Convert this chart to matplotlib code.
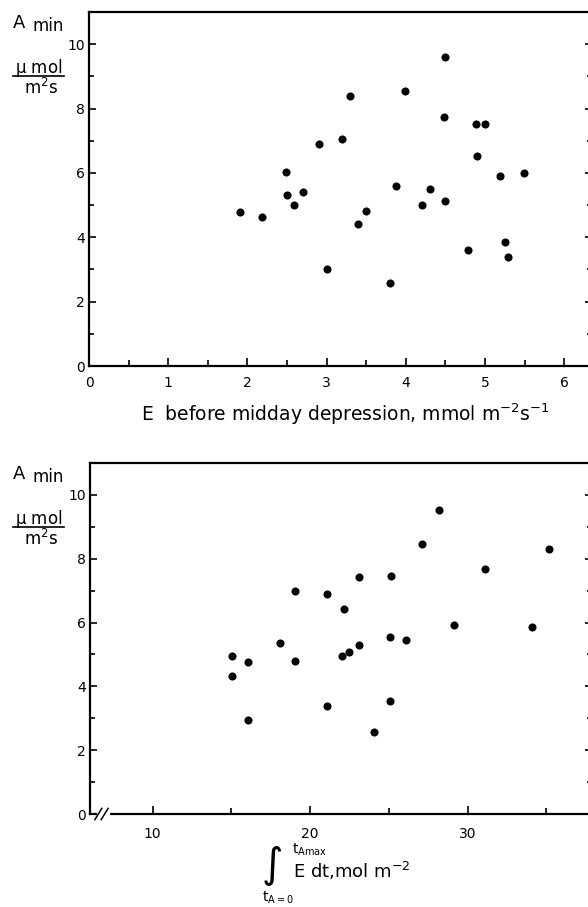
import matplotlib
matplotlib.use('Agg')
import matplotlib.pyplot as plt
from matplotlib.ticker import MultipleLocator
import matplotlib.transforms as mtransforms

# top panel: A min vs E before midday depression
e_mid = [1.90, 2.19, 2.49, 2.50, 2.59, 2.70, 2.90, 3.00, 3.19, 3.29, 3.39, 3.50, 3.80, 3.88,
         3.99, 4.20, 4.30, 4.48, 4.50, 4.50, 4.79, 4.88, 4.90, 5.00, 5.19, 5.25, 5.29, 5.49]
amin_top = [4.80, 4.63, 6.02, 5.30, 5.00, 5.42, 6.89, 3.00, 7.04, 8.38, 4.40, 4.81, 2.58, 5.60,
            8.54, 5.01, 5.50, 7.75, 9.59, 5.12, 3.59, 7.51, 6.51, 7.51, 5.89, 3.86, 3.39, 6.00]

# bottom panel: A min vs integrated E (mol m-2)
e_int = [15.05, 15.05, 16.03, 16.03, 18.06, 19.05, 19.05, 21.09, 21.09, 22.13, 22.02, 22.48, 23.10,
         23.10, 24.07, 25.11, 25.05, 25.07, 26.06, 27.12, 28.16, 29.11, 31.10, 34.10, 35.18]
amin_bot = [4.94, 4.33, 4.76, 2.96, 5.35, 6.98, 4.79, 6.88, 3.40, 6.44, 4.94, 5.07, 7.44,
            5.30, 2.56, 7.47, 5.55, 3.54, 5.46, 8.46, 9.54, 5.93, 7.67, 5.86, 8.32]

W, H = 588, 907
plt.rcParams['font.family'] = ['DejaVu Sans']
fig = plt.figure(figsize=(W / 100, H / 100), dpi=100)


def px(x, y):
    return x / W, 1 - y / H


def make_axes(left, top, bottom, right=592):
    ax = fig.add_axes([left / W, 1 - bottom / H, (right - left) / W, (bottom - top) / H])
    for s in ['left', 'bottom', 'top', 'right']:
        ax.spines[s].set_linewidth(1.6)
    ax.tick_params(axis='both', which='both', direction='in', right=True, top=False,
                   labelsize=10, width=1.2)
    ax.tick_params(axis='y', which='major', length=5, pad=3)
    ax.tick_params(axis='y', which='minor', length=3.5)
    ax.tick_params(axis='x', which='major', length=6, pad=7)
    ax.tick_params(axis='x', which='minor', length=4.5)
    ax.set_ylim(0, 11.0)
    ax.yaxis.set_major_locator(MultipleLocator(2))
    ax.yaxis.set_minor_locator(MultipleLocator(1))
    return ax


def ylabel_block(top):
    fig.text(*px(13, top + 11), 'A', fontsize=13, va='center', ha='left')
    fig.text(*px(32, top + 14), 'min', fontsize=12, va='center', ha='left')
    fig.text(*px(39, top + 56), r'$\mathregular{\mu\ mol}$', fontsize=12, va='center', ha='center')
    fig.add_artist(plt.Line2D([13 / W, 64 / W], [1 - (top + 64) / H] * 2, color='black', lw=1.2))
    fig.text(*px(41, top + 76), r'$\mathregular{m^2s}$', fontsize=12, va='center', ha='center')


# ---- top panel ----
ax1 = make_axes(89, 12, 366)
ax1.scatter(e_mid, amin_top, s=34, color='black', zorder=3, linewidths=0)
ax1.set_xlim(0, 6.35)
ax1.xaxis.set_major_locator(MultipleLocator(1))
ax1.xaxis.set_minor_locator(MultipleLocator(0.5))
ax1.set_xlabel(r'E  before midday depression, mmol m$^{-2}$s$^{-1}$', fontsize=13.5)
ax1.xaxis.set_label_coords(0.51, -0.1)
ylabel_block(12)

# ---- bottom panel ----
ax2 = make_axes(90, 463, 814)
ax2.scatter(e_int, amin_bot, s=34, color='black', zorder=3, linewidths=0)
ax2.set_xlim(6.02, 37.9)
ax2.set_xticks([10, 20, 30])
ax2.set_xticks([15, 25, 35], minor=True)
ax2.tick_params(axis='x', which='major', pad=9)
ylabel_block(463)

# axis break on the bottom x axis
trans = mtransforms.blended_transform_factory(ax2.transData, ax2.transAxes)
ax2.plot([6.6, 7.15], [0, 0], color='white', lw=3, transform=trans, clip_on=False, zorder=5)
for xb in [6.55, 6.95]:
    ax2.plot([xb - 0.22, xb + 0.22], [-0.016, 0.016], color='black', lw=1.1,
             transform=trans, clip_on=False, zorder=6)

# integral label
fig.text(*px(272, 866), r'$\int$', fontsize=21, va='center', ha='center')
fig.text(*px(292, 850), r'$\mathregular{t_{Amax}}$', fontsize=10, va='center', ha='left')
fig.text(*px(293, 871), r'E dt,mol m$^{-2}$', fontsize=13, va='center', ha='left')
fig.text(*px(262, 898), r'$\mathregular{t_{A=0}}$', fontsize=10, va='center', ha='left')

fig.savefig('out.png', dpi=100)
